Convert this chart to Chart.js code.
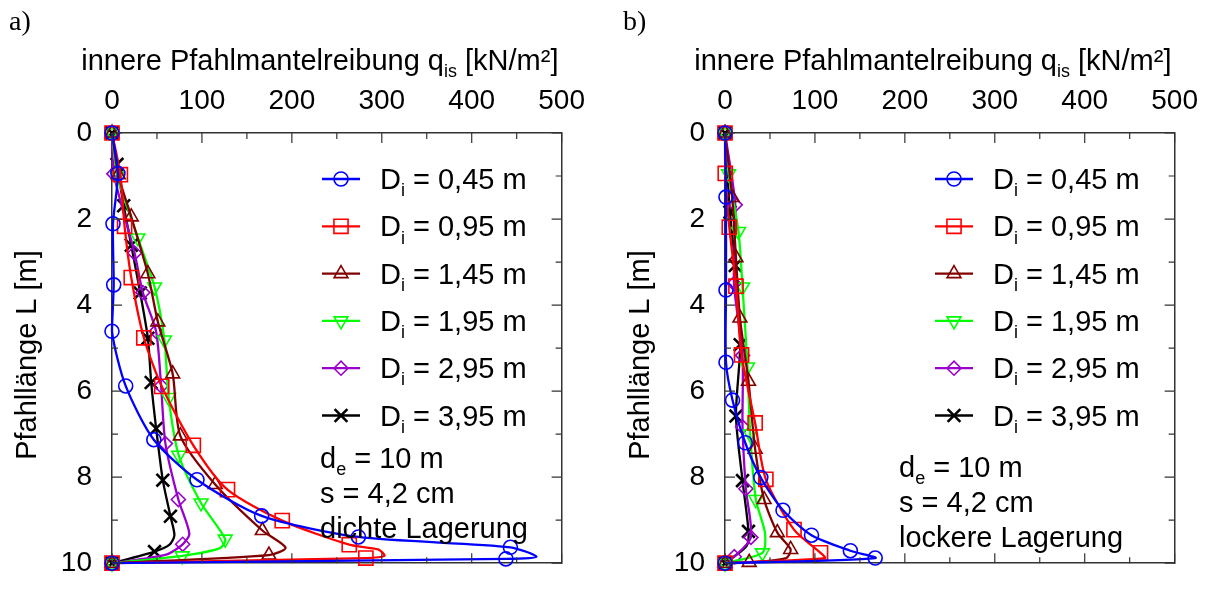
<!DOCTYPE html>
<html>
<head>
<meta charset="utf-8">
<script src="https://cdn.jsdelivr.net/npm/chart.js@4.4.1/dist/chart.umd.min.js"></script>
<style>
  body { margin: 0; background: #fff; }
  #wrap { position: relative; width: 1213px; height: 600px; background: #fff; }
  canvas { position: absolute; top: 0; }
</style>
</head>
<body>
<div id="wrap">
  <canvas id="dense" width="600" height="600" style="left:0"></canvas>
  <canvas id="loose" width="600" height="600" style="left:613px"></canvas>
</div>
<script>
const diameters = ['0,45', '0,95', '1,45', '1,95', '2,95', '3,95'];
const ticksQ = [0, 100, 200, 300, 400, 500];
const ticksL = [0, 2, 4, 6, 8, 10];

// a) dichte Lagerung – q_is [kN/m²] and depth L [m], one row per D_i
const denseQ = [
  [0, 6.6, 1.1, 1.9, 0, 15.2, 46.5, 94.5, 166.4, 274, 443, 472, 438, 0],
  [0, 9.3, 14, 21.4, 35.4, 55.3, 90.4, 128.4, 189.3, 263.8, 296, 303, 282.3, 0],
  [0, 7, 21.4, 39.9, 51, 67.5, 76, 114.8, 167.2, 193, 174.5, 0],
  [0, 6, 28.8, 47.3, 58.3, 63, 74.2, 99, 125.9, 120, 78, 0],
  [0, 2, 25.1, 34.3, 49, 54.6, 59.4, 73.8, 86, 78.6, 60, 0],
  [0, 5.5, 13, 21.4, 31.4, 39.9, 43.6, 49.1, 56.5, 65, 69.4, 64, 47.3, 0]
];
const denseL = [
  [0, 0.94, 2.11, 3.53, 4.61, 5.88, 7.13, 8.06, 8.9, 9.39, 9.63, 9.85, 9.9, 10],
  [0, 0.97, 2.17, 3.36, 4.76, 5.89, 7.26, 8.29, 9.01, 9.57, 9.68, 9.83, 9.88, 10],
  [0, 0.97, 1.95, 3.27, 4.39, 5.6, 7.04, 8.17, 9.24, 9.64, 9.81, 10],
  [0, 1.0, 2.44, 3.58, 4.81, 6.15, 7.49, 8.6, 9.44, 9.65, 9.83, 10],
  [0, 0.95, 2.79, 3.71, 4.61, 5.88, 7.22, 8.52, 9.31, 9.56, 9.8, 10],
  [0, 0.73, 1.69, 2.61, 3.72, 4.77, 5.8, 6.87, 8.07, 8.91, 9.35, 9.57, 9.73, 10]
];
// points where the curve bends without a symbol
const denseBends = [[11], [10, 11], [9], [9], [8, 10], [10, 11]];

// b) lockere Lagerung
const looseQ = [
  [0, 1.1, 1.1, 1.1, 8.4, 22.5, 39.8, 64.5, 96.2, 139.4, 167, 0],
  [0, 0.3, 4.8, 12.2, 18.4, 33.5, 45.4, 76.7, 106.2, 111, 0],
  [0, 8, 12.2, 16.6, 26.1, 33.5, 43.5, 58.2, 73, 68, 26.9, 0],
  [0, 4, 15, 19.5, 25, 28, 34.3, 44.5, 41.6, 0],
  [0, 11.4, 10, 19.5, 19.5, 23.2, 28.8, 10.3, 0],
  [0, 5.5, 11.4, 16.9, 12.2, 19.5, 26.1, 24, 0]
];
const looseL = [
  [0, 1.49, 3.65, 5.33, 6.21, 7.2, 8.01, 8.77, 9.35, 9.71, 9.88, 10],
  [0, 0.94, 2.19, 3.56, 5.16, 6.74, 8.05, 9.22, 9.76, 9.88, 10],
  [0, 1.5, 2.9, 4.3, 5.77, 7.35, 8.52, 9.29, 9.68, 9.88, 9.98, 10],
  [0, 0.95, 2.29, 3.58, 5.44, 7.0, 8.52, 9.3, 9.76, 10],
  [0, 1.67, 3.5, 5.17, 6.83, 8.27, 9.4, 9.85, 10],
  [0, 1.84, 3.08, 4.92, 6.58, 8.08, 9.26, 9.6, 10]
];
const looseBends = [[], [9], [9], [7], [], [7]];

const FONT = "'Liberation Sans', Arial, Helvetica, sans-serif";
const SERIF = "'Liberation Serif', 'Times New Roman', serif";
const FRAME = '#333';
const TEXT = 29;

const looks = [
  { color: '#0000ff', style: 'circle', radius: 7, rot: 0, bw: 1.6 },
  { color: '#ff0000', style: 'rect', radius: 10, rot: 0, bw: 1.6 },
  { color: '#800000', style: 'triangle', radius: 8, rot: 0, bw: 1.6 },
  { color: '#00ff00', style: 'triangle', radius: 8, rot: 180, bw: 1.6 },
  { color: '#9900cc', style: 'rectRot', radius: 7, rot: 0, bw: 1.6 },
  { color: '#000000', style: 'crossRot', radius: 9, rot: 0, bw: 2.6 }
];

function buildSets(qs, ls, bends) {
  return qs.map((q, k) => {
    const lk = looks[k];
    return {
      label: 'Di = ' + diameters[k] + ' m',
      data: q.map((v, j) => ({ x: v, y: ls[k][j] })),
      borderColor: lk.color,
      backgroundColor: 'rgba(0,0,0,0)',
      borderWidth: 2.3,
      tension: 0.25,
      pointStyle: lk.style,
      pointRotation: lk.rot,
      pointRadius: q.map((v, j) => bends[k].includes(j) ? 0 : lk.radius),
      pointHoverRadius: 0,
      pointBorderColor: lk.color,
      pointBackgroundColor: 'rgba(0,0,0,0)',
      pointBorderWidth: lk.bw,
      clip: false
    };
  });
}

// text with subscript pieces: [text, 'sub' | '']
function drawParts(ctx, parts, x, y, size, align) {
  let w = 0;
  const pieces = parts.map(([t, kind]) => {
    const s = kind ? Math.round(size * 0.62) : size;
    ctx.font = s + 'px ' + FONT;
    const pw = ctx.measureText(t).width;
    w += pw;
    return { t, kind, s, pw };
  });
  let cx = align === 'center' ? x - w / 2 : x;
  ctx.textAlign = 'left';
  ctx.textBaseline = 'alphabetic';
  pieces.forEach(p => {
    ctx.font = p.s + 'px ' + FONT;
    ctx.fillText(p.t, cx, y + (p.kind === 'sub' ? size * 0.25 : 0));
    cx += p.pw;
  });
}

const titleParts = [['innere Pfahlmantelreibung q', ''], ['is', 'sub'], [' [kN/m\u00b2]', '']];

// ticks pointing inwards on all four sides
const innerTicks = {
  id: 'innerTicks',
  afterDatasetsDraw(chart) {
    const { ctx, chartArea: a, scales } = chart;
    ctx.save();
    ctx.strokeStyle = FRAME;
    ctx.lineWidth = 1.2;
    ctx.beginPath();
    for (let v = 0; v <= 500; v += 50) {
      const px = scales.x.getPixelForValue(v);
      const len = v % 100 === 0 ? 10 : 6;
      ctx.moveTo(px, a.top); ctx.lineTo(px, a.top + len);
      ctx.moveTo(px, a.bottom); ctx.lineTo(px, a.bottom - len);
    }
    for (let v = 0; v <= 10; v += 1) {
      const py = scales.y.getPixelForValue(v);
      const len = v % 2 === 0 ? 10 : 6;
      ctx.moveTo(a.left, py); ctx.lineTo(a.left + len, py);
      ctx.moveTo(a.right, py); ctx.lineTo(a.right - len, py);
    }
    ctx.stroke();
    ctx.restore();
  }
};

const panelDecor = {
  id: 'panelDecor',
  afterDraw(chart, args, opts) {
    const { ctx, chartArea: a } = chart;
    ctx.save();
    ctx.fillStyle = '#000';
    ctx.font = '28px ' + SERIF;
    ctx.textAlign = 'left';
    ctx.textBaseline = 'alphabetic';
    ctx.fillText(opts.letter, opts.letterX, 30);
    drawParts(ctx, titleParts, (a.left + a.right) / 2 - 17, 70, TEXT, 'center');

    // y axis title
    ctx.save();
    ctx.translate(28, 355);
    ctx.rotate(-Math.PI / 2);
    ctx.font = TEXT + 'px ' + FONT;
    ctx.textAlign = 'center';
    ctx.textBaseline = 'middle';
    ctx.fillText('Pfahllänge L [m]', 0, 0);
    ctx.restore();

    chart.data.datasets.forEach((ds, k) => {
      const y = a.top + 46 + k * 47.3;
      const x0 = a.left + 210;
      ctx.strokeStyle = ds.borderColor;
      ctx.lineWidth = 2.3;
      ctx.beginPath(); ctx.moveTo(x0, y); ctx.lineTo(x0 + 38, y); ctx.stroke();
      ctx.fillStyle = 'rgba(0,0,0,0)';
      ctx.lineWidth = ds.pointBorderWidth;
      Chart.helpers.drawPoint(ctx, {
        pointStyle: ds.pointStyle, rotation: ds.pointRotation,
        radius: looks[k].radius, borderWidth: ds.pointBorderWidth
      }, x0 + 19, y);
      ctx.fillStyle = '#000';
      drawParts(ctx, [['D', ''], ['i', 'sub'], [' = ' + diameters[k] + ' m', '']], x0 + 58, y + 10, TEXT, 'left');
    });

    opts.notes.forEach((parts, j) => {
      drawParts(ctx, parts, a.left + opts.notesLeft, a.top + opts.notesTop + j * 35, TEXT, 'left');
    });
    ctx.restore();
  }
};

function axisFont() { return { size: 28, family: FONT }; }

function makeChart(id, qs, ls, bends, decor) {
  return new Chart(document.getElementById(id), {
    type: 'line',
    data: { datasets: buildSets(qs, ls, bends) },
    plugins: [innerTicks, panelDecor],
    options: {
      responsive: false,
      animation: false,
      events: [],
      layout: { padding: 0 },
      plugins: {
        legend: { display: false },
        tooltip: { enabled: false },
        panelDecor: decor
      },
      scales: {
        x: {
          type: 'linear', position: 'top', min: 0, max: 500,
          afterBuildTicks: s => { s.ticks = ticksQ.map(v => ({ value: v })); },
          ticks: { color: '#000', padding: 15, font: axisFont(), maxRotation: 0 },
          grid: { display: true, drawOnChartArea: false, drawTicks: false },
          border: { display: true, color: FRAME, width: 1.5 },
          afterFit: s => { s.height = 133; }
        },
        xb: {
          type: 'linear', position: 'bottom', min: 0, max: 500,
          ticks: { display: false },
          grid: { display: true, drawOnChartArea: false, drawTicks: false },
          border: { display: true, color: FRAME, width: 1.5 },
          afterFit: s => { s.height = 13; }
        },
        y: {
          type: 'linear', position: 'left', reverse: true, min: 0, max: 10,
          afterBuildTicks: s => { s.ticks = ticksL.map(v => ({ value: v })); },
          ticks: { color: '#000', padding: 20, font: axisFont() },
          grid: { display: true, drawOnChartArea: false, drawTicks: false },
          border: { display: true, color: FRAME, width: 1.5 },
          afterFit: s => { s.width = 112; }
        },
        yr: {
          type: 'linear', position: 'right', reverse: true, min: 0, max: 10,
          ticks: { display: false },
          grid: { display: true, drawOnChartArea: false, drawTicks: false },
          border: { display: true, color: FRAME, width: 1.5 },
          afterFit: s => { s.width = 36; }
        }
      }
    }
  });
}

makeChart('dense', denseQ, denseL, denseBends, {
  letter: 'a)', letterX: 9, notesLeft: 208, notesTop: 335,
  notes: [
    [['d', ''], ['e', 'sub'], [' = 10 m', '']],
    [['s = 4,2 cm', '']],
    [['dichte Lagerung', '']]
  ]
});

makeChart('loose', looseQ, looseL, looseBends, {
  letter: 'b)', letterX: 10, notesLeft: 174, notesTop: 344,
  notes: [
    [['d', ''], ['e', 'sub'], [' = 10 m', '']],
    [['s = 4,2 cm', '']],
    [['lockere Lagerung', '']]
  ]
});
</script>
</body>
</html>
